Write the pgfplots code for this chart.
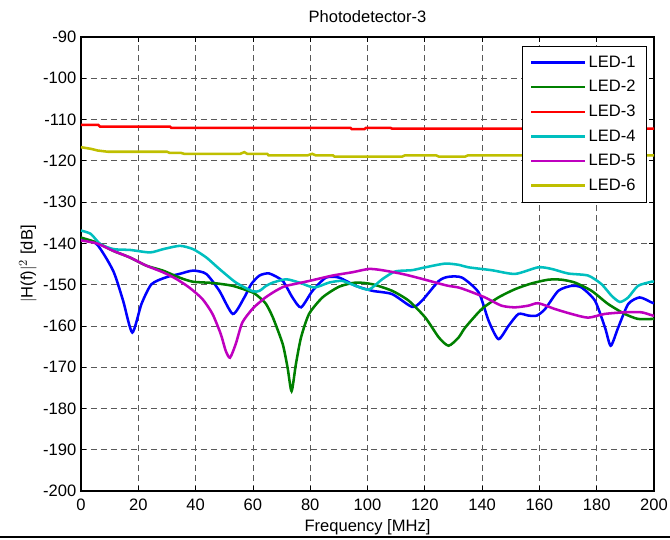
\documentclass[border=0pt]{standalone}
\usepackage{pgfplots}
\pgfplotsset{compat=1.18}
\usepackage{fontspec}
\setmainfont{Liberation Sans}
\definecolor{mblue}{rgb}{0,0,1}
\definecolor{mgreen}{rgb}{0,0.5,0}
\definecolor{mred}{rgb}{1,0,0}
\definecolor{mcyan}{rgb}{0,0.75,0.75}
\definecolor{mmag}{rgb}{0.75,0,0.75}
\definecolor{myel}{rgb}{0.75,0.75,0}
\begin{document}
\begin{tikzpicture}[x=1pt,y=1pt]
\path[use as bounding box] (-60.75,-36) rectangle (441.75,368.25);
\draw[line width=1pt] (-60.75,-34.5) -- (441.75,-34.5);
\begin{axis}[
  at={(0,0)}, anchor=south west,
  scale only axis, width=429.75pt, height=340.5pt,
  xmin=0, xmax=200, ymin=-200, ymax=-90,
  xtick={0,20,...,200}, ytick={-200,-190,...,-90},
  tick align=inside, tick pos=both,
  major tick length=4pt,
  every tick/.style={black, line width=0.6pt},
  axis line style={black, line width=0.8pt},
  grid=major,
  major grid style={black!65, line width=0.5pt, dash pattern=on 4.5pt off 3pt},
  font=\fontsize{12.4}{14}\selectfont,
  /pgf/number format/assume math mode=true,
  xticklabel style={yshift=-2.5pt},
  title={Photodetector-3},
  title style={yshift=1pt},
  xlabel={Frequency [MHz]},
  ylabel={$|$H(f)$|^2$ [dB]},
  ylabel style={yshift=-2pt},
  legend cell align=left,
  legend style={at={(0.987,0.980)}, anchor=north east, draw=black, line width=0.6pt,
    font=\fontsize{12.4}{14}\selectfont, row sep=4.4pt, inner xsep=6pt, inner ysep=5pt},
  legend image code/.code={\draw[#1, line width=2pt] (0pt,0pt) -- (40pt,0pt);},
  every axis plot/.append style={line width=1.9pt},
]
\addplot[mblue, smooth, tension=0.4] coordinates {
(0,-138.9) (5.5,-140.2) (11.2,-146.6) (14.7,-153.9) (17.9,-161.6) (21.1,-154.7) (24.6,-149.9) (29.8,-148.2) (34.4,-147.4) (39.1,-146.6) (43.7,-147.4) (48.3,-151.5) (53,-157.1) (57,-153.1) (59.4,-149.9) (62.3,-147.8) (65.7,-147.3) (70.4,-149.1) (73.8,-153.1) (76.8,-155.5) (80.8,-151.5) (85.5,-148.3) (90.1,-148.3) (95.9,-150.3) (101.7,-151.5) (108.6,-152.3) (115.6,-155.4) (119,-153.9) (124.9,-149.1) (128.3,-148.1) (133,-148.3) (138.8,-151.9) (142.3,-158.8) (145.7,-163.2) (149.2,-160) (152.7,-157.1) (156.2,-157.5) (159.1,-157.5) (162,-155.9) (166.6,-151.5) (171.2,-150.3) (174.7,-150.7) (179.4,-153.9) (182.9,-160.4) (184.9,-164.8) (187.5,-160.4) (191,-154.7) (195,-153.1) (199.1,-154.3) (200,-154.5)
};
\addlegendentry{LED-1}
\addplot[mgreen, smooth, tension=0.4] coordinates {
(0,-138.6) (5.5,-139.8) (11.2,-141.8) (17,-143.4) (22.8,-145.4) (28.6,-146.6) (34.4,-148.3) (39.1,-149.3) (46,-149.6) (53,-150.3) (59.9,-151.9) (62.3,-153.1) (64.6,-154.7) (67,-158) (70.4,-164.4) (72.1,-170.1) (73.5,-175.8) (75,-169.3) (76.8,-162.8) (79.6,-157.1) (84.3,-153.1) (90.1,-150.5) (95.9,-149.5) (101.7,-149.9) (108.6,-151.5) (114.4,-153.9) (120.2,-158) (124.9,-162.8) (128.3,-164.8) (131.8,-162.8) (134.1,-160.4) (139.9,-155.9) (145.7,-153.1) (151.5,-151.1) (157.3,-149.7) (163.1,-148.8) (167.7,-148.8) (172.4,-149.5) (178.2,-151.5) (184,-154.7) (189.8,-157.1) (194.4,-158.3) (200,-158.3)
};
\addlegendentry{LED-2}
\addplot[mred] coordinates {
(0,-111.3) (6,-111.3) (6.6,-111.7) (31,-111.7) (31.5,-112) (94,-112) (94.5,-112.3) (99,-112.3) (99.5,-112) (108,-112) (108.5,-112.2) (200,-112.2)
};
\addlegendentry{LED-3}
\addplot[mcyan, smooth, tension=0.4] coordinates {
(0,-136.9) (3.4,-137.7) (6.8,-140.2) (11.4,-141.4) (17.2,-141.6) (24.1,-142.2) (28.7,-141.4) (34.5,-140.6) (39.1,-141.4) (43.7,-143.4) (48.3,-146.2) (54.1,-149.5) (59.9,-151.6) (62.3,-151.5) (64.6,-150.3) (67,-149.5) (71.6,-148.7) (76.2,-149.5) (81.4,-150.7) (86.6,-149.5) (91.2,-149.1) (95.9,-150.3) (100.5,-151.2) (105.1,-148.7) (109.7,-146.8) (115.5,-146.5) (120.2,-145.8) (127.1,-144.9) (131.8,-145.2) (135.2,-145.8) (143.3,-146.5) (151.5,-147.4) (159.6,-145.8) (164.3,-146.2) (170,-147.3) (177,-147.8) (181.7,-149.9) (185.2,-152.7) (188.1,-154.2) (191,-153.1) (194.4,-150.3) (199.1,-149.3) (200,-149.3)
};
\addlegendentry{LED-4}
\addplot[mmag, smooth, tension=0.4] coordinates {
(0,-139.3) (5.5,-140) (11.2,-141.8) (17,-143.4) (22.8,-145.4) (28.6,-147) (33.2,-148.6) (37.8,-150.7) (42.4,-153.5) (45.9,-157.1) (48.8,-162) (50.5,-166) (52,-167.7) (54,-164.4) (56.3,-159.2) (59.8,-155.9) (62.3,-154.3) (64.4,-153.1) (67,-151.9) (69,-151.1) (71.6,-150.3) (79.7,-149.1) (87.8,-147.8) (94.7,-147) (100.5,-146.2) (105.1,-146.5) (112.1,-147.4) (119,-148.6) (125.9,-149.9) (128.3,-150.3) (131.8,-150.7) (135.2,-151.5) (141,-153.1) (146.8,-155.1) (151.5,-155.5) (156.1,-155.1) (159.6,-154.5) (165.4,-155.9) (171.2,-157.1) (177,-158) (182.8,-157.1) (189.8,-156.7) (195.6,-156.7) (199.6,-157.5) (200,-157.5)
};
\addlegendentry{LED-5}
\addplot[myel] coordinates {
(0,-116.7) (3.5,-117.1) (5.8,-117.5) (9.3,-117.8) (30,-117.8) (31,-118.1) (35,-118.1) (36,-118.3) (55.6,-118.3) (57,-117.9) (58,-118.3) (65,-118.3) (65.5,-118.7) (79,-118.7) (80.7,-118.3) (82,-118.7) (88,-118.7) (88.5,-119) (112,-119) (113,-118.7) (124,-118.7) (125,-119) (134,-119) (135,-118.7) (200,-118.7)
};
\addlegendentry{LED-6}
\end{axis}
\end{tikzpicture}
\end{document}
